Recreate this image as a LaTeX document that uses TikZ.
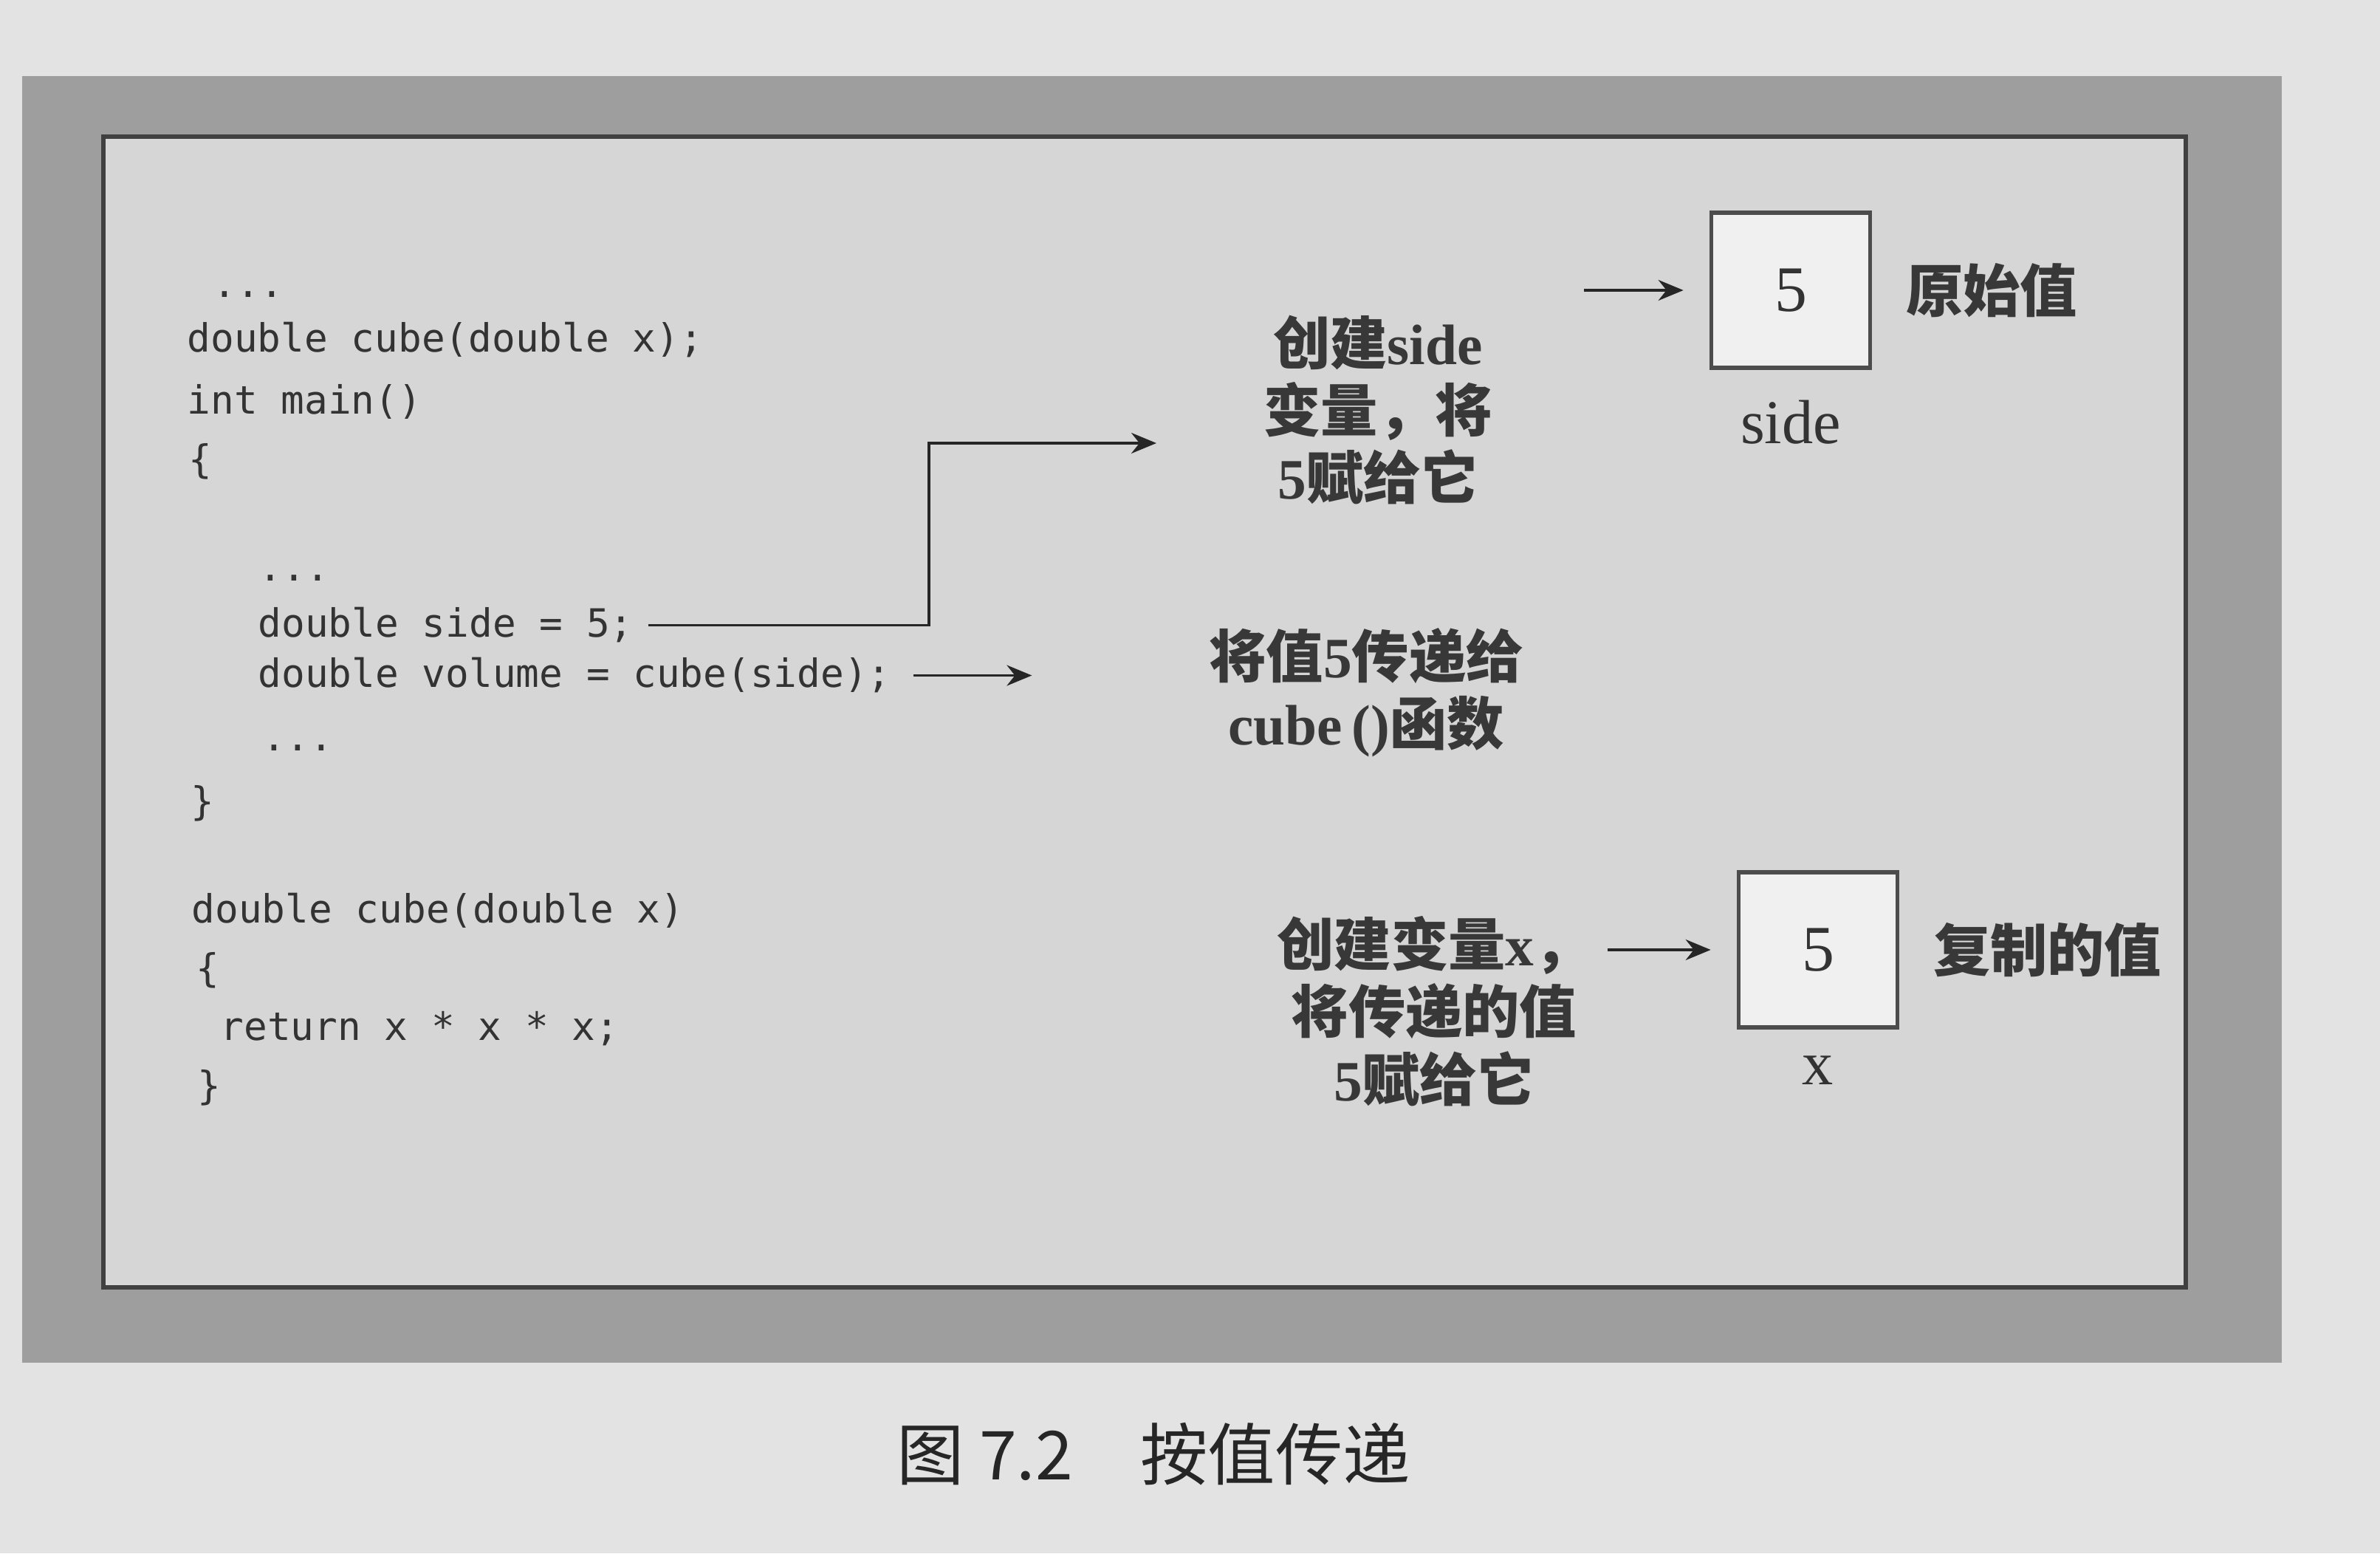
\documentclass[tikz,border=0pt]{standalone}
\usepackage{fontspec}
\setmainfont{Liberation Serif}
\newfontfamily\cjk{Noto Sans CJK SC}
\newfontfamily\codefont{DejaVu Sans Mono}
\usetikzlibrary{arrows.meta, positioning}

\definecolor{pagebg}{gray}{0.89}
\definecolor{framegray}{gray}{0.62}
\definecolor{panelgray}{gray}{0.84}
\definecolor{boxfill}{gray}{0.94}
\definecolor{inkgray}{gray}{0.2}

\newcommand{\zh}[1]{{\cjk #1}}

\begin{document}
\begin{tikzpicture}[
    every node/.style={inner sep=0pt},
    code/.style={font=\codefont\fontsize{15}{18}\selectfont, text=inkgray, anchor=base west},
    note/.style={font=\bfseries\fontsize{22}{26}\selectfont, align=center, text=black!78},
    valbox/.style={draw=black!70, line width=1.6pt, fill=boxfill, minimum width=2.15cm, minimum height=2.1cm, font=\fontsize{25}{28}\selectfont, text=black!80},
    varname/.style={font=\fontsize{24}{26}\selectfont, text=black!80},
    arrow/.style={-{Stealth[length=3.4mm, width=2.8mm]}, line width=1pt, black!85}
]
% page, frame and panel
\fill[pagebg] (0,0) rectangle (32.23,21.03);
\useasboundingbox (0,0) rectangle (32.23,21.03);
\fill[framegray] (0.3,2.58) rectangle (30.9,20.0);
\draw[black!75, line width=1.6pt, fill=panelgray] (1.4,3.6) rectangle (29.6,19.18);

% code
\node[code] (dots1) at (2.88,17.00) {...};
\node[code] (proto) at (2.53,16.26) {double cube(double x);};
\node[code] (mainhd) at (2.53,15.42) {int main()};
\node[code] (obr1) at (2.55,14.62) {\{};
\node[code] (dots2) at (3.50,13.16) {...};
\node[code] (side) at (3.49,12.40) {double side = 5;};
\node[code] (vol) at (3.49,11.72) {double volume = cube(side);};
\node[code] (dots3) at (3.55,10.86) {...};
\node[code] (cbr1) at (2.58,9.99) {\}};
\node[code] (cubehd) at (2.59,8.53) {double cube(double x)};
\node[code] (obr2) at (2.65,7.73) {\{};
\node[code] (ret) at (2.98,6.95) {return x * x * x;};
\node[code] (cbr2) at (2.67,6.15) {\}};

% notes
\node[note] (mk) at (18.66,15.48) {\zh{创建}side\\\zh{变量，将}\\5\zh{赋给它}};
\node[note] (pass) at (18.5,11.65) {\zh{将值}5\zh{传递给}\\cube\,()\zh{函数}};
\node[note] (cp) at (19.42,7.34) {\zh{创建变量}x\zh{，}\\\zh{将传递的值}\\5\zh{赋给它}};

% value boxes
\node[valbox] (orig) at (24.25,17.1) {5};
\node[note, right=0.45cm of orig] (origlbl) {\zh{原始值}};
\node[varname, below=0.4cm of orig] (sidelbl) {side};
\node[valbox] (copy) at (24.62,8.17) {5};
\node[note, right=0.45cm of copy] (copylbl) {\zh{复制的值}};
\node[varname, below=0.35cm of copy] (xlbl) {x};

% arrows
\coordinate (mkbend) at (12.58,15.03);
\coordinate (mkend) at (15.66,15.03);
\coordinate (passend) at ([xshift=1.9cm]vol.east);
\coordinate (newstart) at ([xshift=-1.7cm]orig.west);
\coordinate (cpstart) at ([xshift=-1.75cm]copy.west);
\draw[arrow] ([xshift=2mm]side.east) -| (mkbend) -- (mkend);
\draw[arrow] ([xshift=3mm]vol.east) -- (passend);
\draw[arrow, shorten >=0.35cm] (newstart) -- (orig.west);
\draw[arrow, shorten >=0.35cm] (cpstart) -- (copy.west);

% caption
\node[font=\cjk\fontsize{26}{30}\selectfont, text=black!85] (cap) at (15.62,1.34) {图~7.2\hspace{1em}按值传递};
\end{tikzpicture}
\end{document}
